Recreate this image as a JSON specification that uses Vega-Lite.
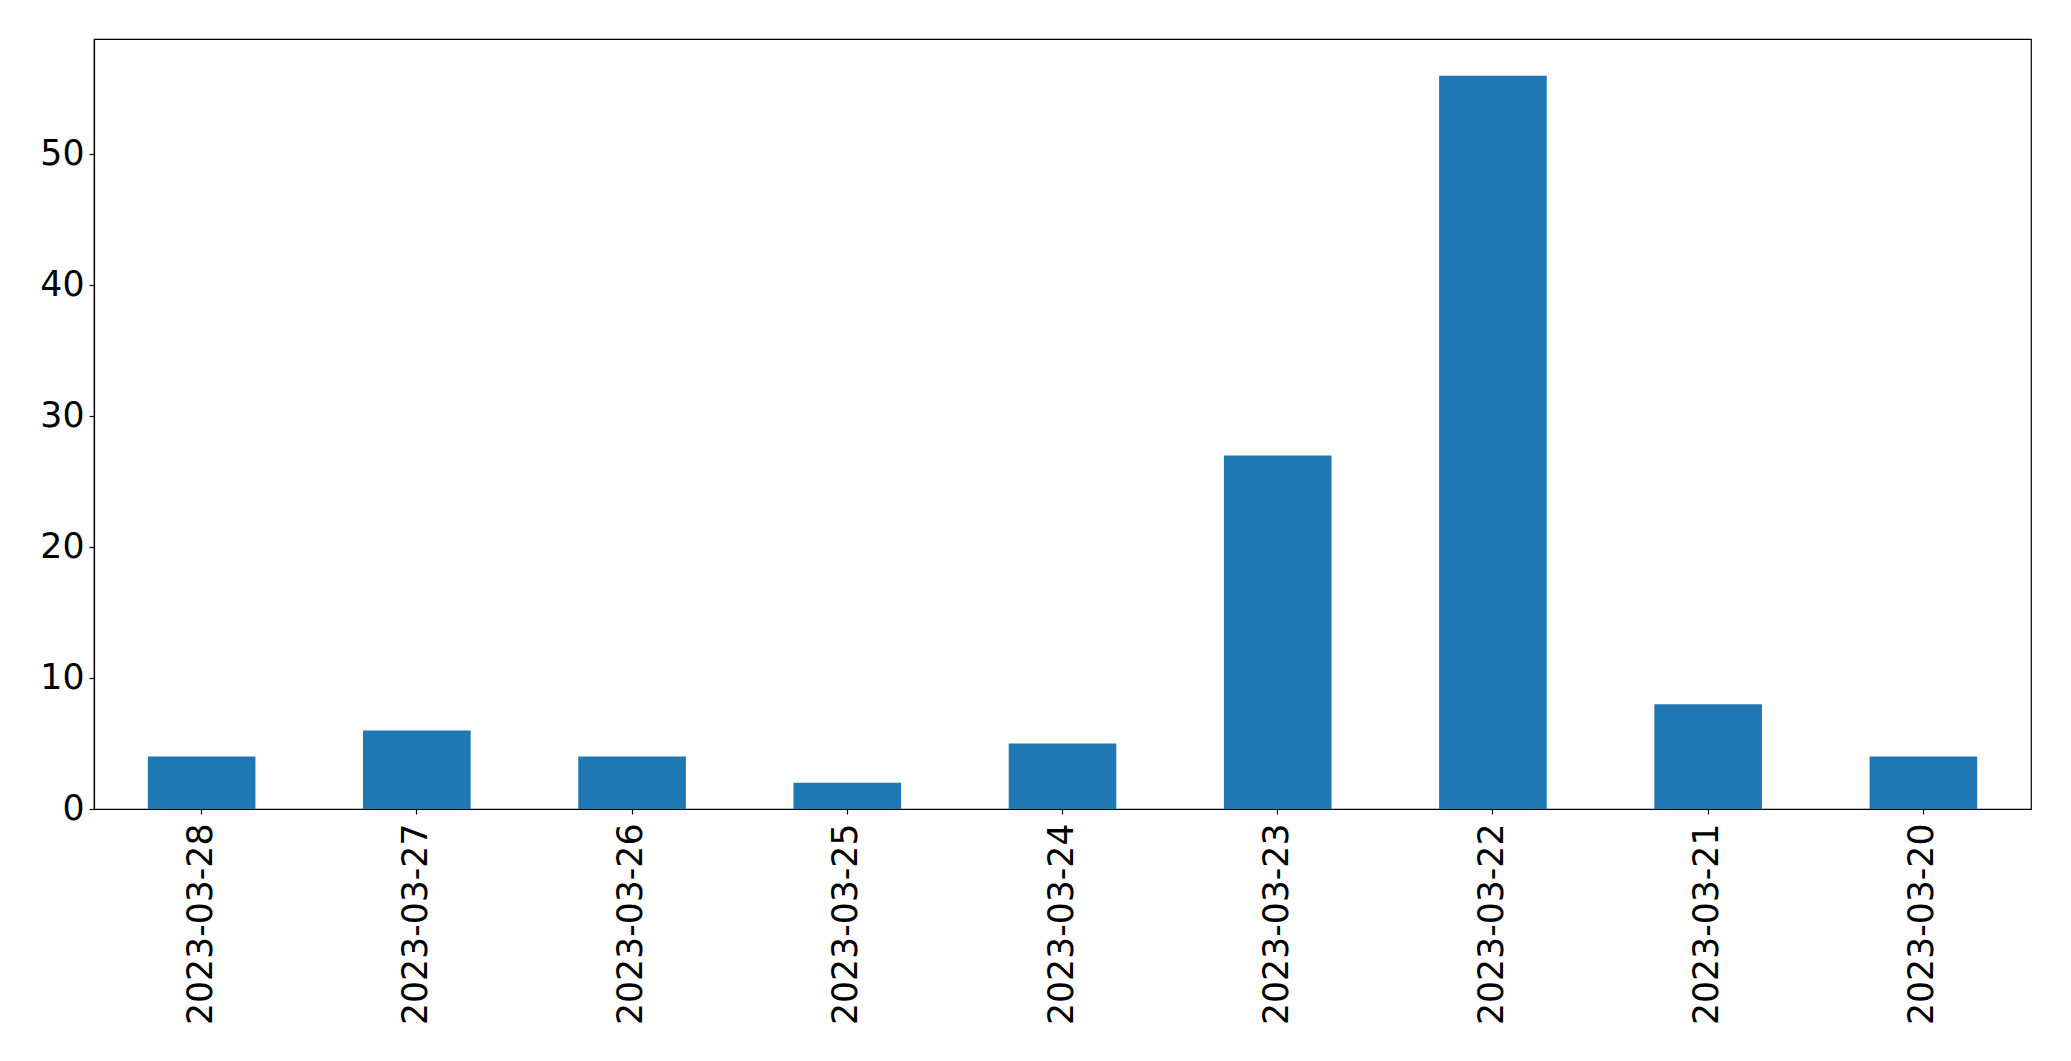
{
  "$schema": "https://vega.github.io/schema/vega-lite/v6.json",
  "width": 1937,
  "height": 770,
  "autosize": {"type": "none"},
  "padding": {"left": 94, "top": 39, "right": 40, "bottom": 252},
  "background": "white",
  "config": {
    "view": {"stroke": "black", "strokeWidth": 1.2},
    "font": "DejaVu Sans",
    "axis": {
      "labelFont": "DejaVu Sans",
      "labelFontSize": 34.7,
      "labelColor": "black",
      "labelLimit": 0,
      "domainColor": "black",
      "domainWidth": 1.2,
      "tickColor": "black",
      "tickSize": 5,
      "tickWidth": 1.2,
      "labelPadding": 5,
      "grid": false,
      "title": null
    }
  },
  "data": {
    "values": [
      {"date": "2023-03-28", "count": 4},
      {"date": "2023-03-27", "count": 6},
      {"date": "2023-03-26", "count": 4},
      {"date": "2023-03-25", "count": 2},
      {"date": "2023-03-24", "count": 5},
      {"date": "2023-03-23", "count": 27},
      {"date": "2023-03-22", "count": 56},
      {"date": "2023-03-21", "count": 8},
      {"date": "2023-03-20", "count": 4}
    ]
  },
  "mark": {"type": "bar", "color": "#1f77b4"},
  "encoding": {
    "x": {
      "field": "date",
      "type": "nominal",
      "sort": null,
      "scale": {"paddingInner": 0.5, "paddingOuter": 0.25},
      "axis": {"labelAngle": -90, "labelBaseline": "middle", "labelAlign": "right", "labelPadding": 9}
    },
    "y": {
      "field": "count",
      "type": "quantitative",
      "scale": {"domain": [0, 58.8], "nice": false, "zero": true},
      "axis": {"values": [0, 10, 20, 30, 40, 50]}
    }
  }
}
